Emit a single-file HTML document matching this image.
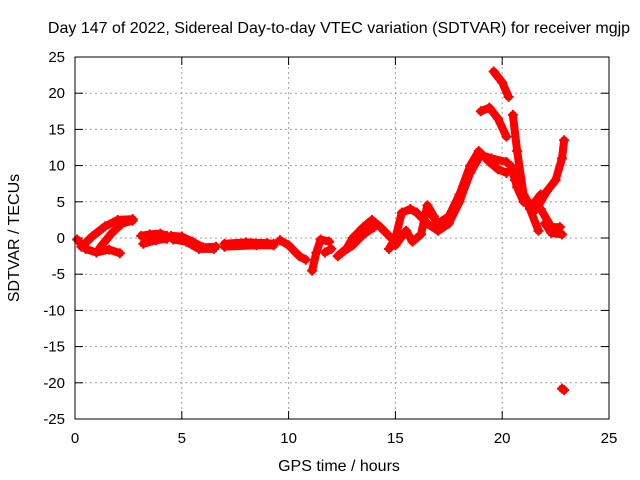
<!DOCTYPE html>
<html><head><meta charset="utf-8"><style>
body{margin:0;background:#fff}
svg{display:block;font-family:"Liberation Sans",sans-serif}
</style></head><body>
<svg id="c" width="640" height="480">
<text x="339" y="33" font-size="16" text-anchor="middle">Day 147 of 2022, Sidereal Day-to-day VTEC variation (SDTVAR) for receiver mgjp</text>
<text x="339" y="471" font-size="16" text-anchor="middle">GPS time / hours</text>
<text transform="translate(19,238) rotate(-90)" font-size="16" text-anchor="middle">SDTVAR / TECUs</text>
<g id="grid"></g><g id="marks"></g>
<rect x="75" y="57" width="534" height="362" fill="none" stroke="#000" stroke-width="1"/>
</svg>
<script>
const xTicks=[0,5,10,15,20,25];
const yTicks=[-25,-20,-15,-10,-5,0,5,10,15,20,25];
const tracks=[
[[0.1,-0.2],[0.5,-1.5],[1.0,-2.0],[1.6,-1.6],[2.1,-2.1]],
[[0.3,-1.2],[0.8,0.2],[1.4,1.6],[2.0,2.5],[2.7,2.6]],
[[1.2,-1.2],[1.7,0.6],[2.2,2.0],[2.7,2.4]],
[[3.1,0.3],[3.5,0.5],[4.0,0.6],[4.3,0.3]],
[[3.2,-0.8],[3.8,-0.3],[4.3,-0.1]],
[[4.5,0.3],[5.0,0.2],[5.5,-0.5],[6.0,-1.3],[6.6,-1.2]],
[[4.6,-0.2],[5.2,-0.5],[5.8,-1.5],[6.5,-1.5]],
[[7.0,-0.8],[8.0,-0.6],[9.0,-0.7],[9.3,-0.8]],
[[7.0,-1.2],[8.5,-1.0],[9.3,-1.0]],
[[9.6,-0.3],[10.0,-1.0],[10.5,-2.5],[10.8,-3]],
[[11.1,-4.5],[11.3,-2.0],[11.5,-0.2],[11.9,-0.5]],
[[11.7,-2.0],[12.0,-1.5]],
[[12.3,-2.5],[12.7,-1.5],[13.0,0],[13.5,1.5],[13.9,2.5],[14.3,1.5],[14.8,0]],
[[12.5,-2.0],[13.0,-1.0],[13.5,0.5],[14.0,1.5]],
[[14.7,-1.5],[15.0,0],[15.3,3.5],[15.7,4],[16.0,3.5]],
[[15.0,-1],[15.5,1],[15.8,-0.5],[16.2,0.5],[16.5,4.5],[16.8,3]],
[[16.0,3.5],[16.5,2],[17,1],[17.5,2],[18,5],[18.5,9],[19,11.5],[19.5,11],[20.2,10.5]],
[[16.5,4],[17,2],[17.5,3],[18,6],[18.5,10],[18.9,12],[19.4,10.5],[19.8,9.5],[20.2,9]],
[[19.0,17.5],[19.4,18],[19.8,16.5],[20.2,14]],
[[19.6,23],[20.0,21.5],[20.3,19.5]],
[[20.5,17],[20.7,12],[21,6],[21.3,4],[21.7,1]],
[[20.4,10],[20.7,7],[21,5],[21.4,4.5],[21.8,6]],
[[20.6,8],[21.2,5],[21.8,4],[22.3,1.5],[22.7,1.5]],
[[21.6,4],[22.1,6.5],[22.5,8],[22.8,11],[22.9,13.5]],
[[22.0,2],[22.3,0.7],[22.8,0.5]],
[[22.8,-20.8],[22.9,-21]]
];
const X0=75,X1=609,Y0=419,Y1=57;
function sx(h){return X0+(h-0)/25*(X1-X0);}
function sy(v){return Y0-(v+25)/50*(Y0-Y1);}
const NS="http://www.w3.org/2000/svg";
const grid=document.getElementById('grid'),marks=document.getElementById('marks');
function mk(t,a,p){const e=document.createElementNS(NS,t);for(const k in a)e.setAttribute(k,a[k]);p.appendChild(e);return e;}
xTicks.forEach(t=>{const x=sx(t);
 if(t>0&&t<25){const g=mk('line',{x1:x,x2:x,y1:Y1,y2:Y0,stroke:'#a0a0a0','stroke-dasharray':'2,3'},grid);
 
 }
 mk('line',{x1:x,x2:x,y1:Y0,y2:Y0-8,stroke:'#000'},grid);
 mk('line',{x1:x,x2:x,y1:Y1,y2:Y1+8,stroke:'#000'},grid);
 const l=mk('text',{x:x,y:Y0+24,'font-size':15,'text-anchor':'middle'},grid);l.textContent=t;
 
 
});
yTicks.forEach(t=>{const y=sy(t);
 if(t>-25&&t<25){const g=mk('line',{x1:X0,x2:X1,y1:y,y2:y,stroke:'#a0a0a0','stroke-dasharray':'2,3'},grid);
 
 }
 mk('line',{x1:X0,x2:X0+8,y1:y,y2:y,stroke:'#000'},grid);
 mk('line',{x1:X1,x2:X1-8,y1:y,y2:y,stroke:'#000'},grid);
 const l=mk('text',{x:X0-10,y:y+5,'font-size':15,'text-anchor':'end'},grid);l.textContent=t;
 
 
});
tracks.forEach(tr=>{
 const pl=mk('polyline',{points:tr.map(p=>sx(p[0])+','+sy(p[1])).join(' '),fill:'none',stroke:'#ff0000','stroke-width':8,'stroke-linejoin':'round','stroke-linecap':'round'},marks);
 
 
 tr.forEach(p=>{const x=sx(p[0]),y=sy(p[1]);
  const m=mk('path',{d:`M${x-5},${y}h10M${x},${y-5}v10`,stroke:'#ff0000','stroke-width':2},marks);
  
  
 });
});
</script>
</body></html>
